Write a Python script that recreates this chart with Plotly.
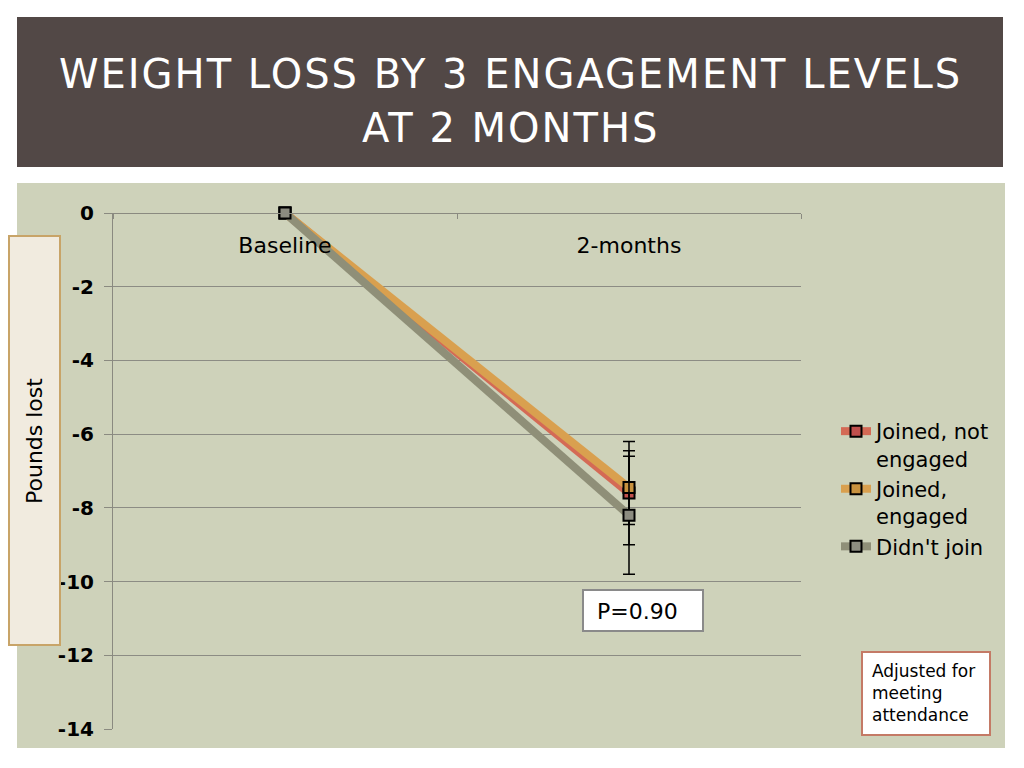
import plotly.graph_objects as go

categories = ["Baseline", "2-months"]
series_names = ["Joined, not<br>engaged", "Joined,<br>engaged", "Didn't join"]
series_values = [
    [0, -7.6],
    [0, -7.45],
    [0, -8.2],
]
series_errors = [
    [None, 1.4],
    [None, 1.0],
    [None, 1.6],
]
line_colors = ["#D46A55", "#D9A04F", "#8F8F78"]
marker_colors = ["#C0504D", "#C8923F", "#8C8C80"]
y_ticks = [0, -2, -4, -6, -8, -10, -12, -14]

FONT = "DejaVu Sans"
OFF = 8  # page body margin
W, H = 1024 - 2 * OFF, 768 - 2 * OFF
# plot area in page pixels
PL, PR, PT, PB = 113, 801, 213, 729


def fx(px):
    return (px - PL) / (PR - PL)


def fy(py):
    return (PB - py) / (PB - PT)


fig = go.Figure()
for name, vals, errs, lc, mc in zip(series_names, series_values, series_errors,
                                     line_colors, marker_colors):
    fig.add_trace(go.Scatter(
        x=categories, y=vals, name=name, mode="lines+markers",
        cliponaxis=False,
        line=dict(color=lc, width=8),
        marker=dict(symbol="square", size=11, color=mc,
                    line=dict(color="black", width=2)),
        error_y=dict(type="data", array=errs, visible=True,
                     color="black", thickness=1.5, width=6),
    ))

shapes = [
    dict(type="rect", xref="paper", yref="paper", layer="below",
         x0=fx(17), x1=fx(1005), y0=fy(748), y1=fy(183),
         fillcolor="#CED2BA", line=dict(width=0)),
    dict(type="rect", xref="paper", yref="paper", layer="below",
         x0=fx(17), x1=fx(1003), y0=fy(167), y1=fy(17),
         fillcolor="#524846", line=dict(width=0)),
    dict(type="rect", xref="paper", yref="paper", layer="above",
         x0=fx(9), x1=fx(60), y0=fy(645), y1=fy(236),
         fillcolor="#F1EBDF", line=dict(color="#C8A468", width=2)),
    dict(type="rect", xref="paper", yref="paper", layer="above",
         x0=fx(583), x1=fx(703), y0=fy(631), y1=fy(590),
         fillcolor="white", line=dict(color="#8A8A8A", width=2)),
    dict(type="rect", xref="paper", yref="paper", layer="above",
         x0=fx(862), x1=fx(990), y0=fy(735), y1=fy(652),
         fillcolor="white", line=dict(color="#C47A66", width=2)),
]

ls = "letter-spacing:2px"
annotations = [
    dict(text=f'<span style="{ls}">WEIGHT LOSS BY 3 ENGAGEMENT LEVELS</span>',
         xref="paper", yref="paper", x=fx(510), y=fy(74),
         xanchor="center", yanchor="middle", showarrow=False,
         font=dict(family=FONT, size=40, color="white")),
    dict(text=f'<span style="{ls}">AT 2 MONTHS</span>',
         xref="paper", yref="paper", x=fx(510), y=fy(128),
         xanchor="center", yanchor="middle", showarrow=False,
         font=dict(family=FONT, size=40, color="white")),
    dict(text="Pounds lost", textangle=-90,
         xref="paper", yref="paper", x=fx(34), y=fy(441),
         xanchor="center", yanchor="middle", showarrow=False,
         font=dict(family=FONT, size=22, color="black")),
    dict(text="P=0.90",
         xref="paper", yref="paper", x=fx(595), y=fy(611),
         xanchor="left", yanchor="middle", showarrow=False,
         font=dict(family=FONT, size=22, color="black")),
    dict(text="Adjusted for<br>meeting<br>attendance", align="left",
         xref="paper", yref="paper", x=fx(870), y=fy(693),
         xanchor="left", yanchor="middle", showarrow=False,
         font=dict(family=FONT, size=17, color="black")),
]

fig.update_layout(
    width=W, height=H,
    margin=dict(l=PL - OFF, r=W - (PR - OFF), t=PT - OFF, b=H - (PB - OFF),
                autoexpand=False),
    paper_bgcolor="white",
    plot_bgcolor="rgba(0,0,0,0)",
    font=dict(family=FONT, color="black"),
    showlegend=True,
    legend=dict(x=fx(836), y=fy(411), xanchor="left", yanchor="top",
                bgcolor="rgba(0,0,0,0)", valign="top",
                font=dict(family=FONT, size=21, color="black"),
                tracegroupgap=0, itemwidth=30),
    shapes=shapes,
    annotations=annotations,
    xaxis=dict(
        type="category", range=[-0.5, 1.5], side="bottom",
        anchor="free", position=1,
        tickson="boundaries",
        ticks="outside", ticklen=5, tickcolor="#8A8A80",
        showline=True, linecolor="#8A8A80", linewidth=1,
        showgrid=False, zeroline=False,
        tickfont=dict(family=FONT, size=22, color="black"),
        ticklabelstandoff=13,
    ),
    yaxis=dict(
        range=[-14, 0], tickvals=y_ticks, ticktext=[str(v) for v in y_ticks],
        ticks="outside", ticklen=8, tickcolor="#8A8A80",
        showline=True, linecolor="#8A8A80", linewidth=1,
        showgrid=True, gridcolor="#8C8C84", gridwidth=1,
        zeroline=False,
        tickfont=dict(family=FONT, size=20, color="black", weight="bold"),
        ticklabelstandoff=6,
    ),
)

fig.write_html("out.html")
